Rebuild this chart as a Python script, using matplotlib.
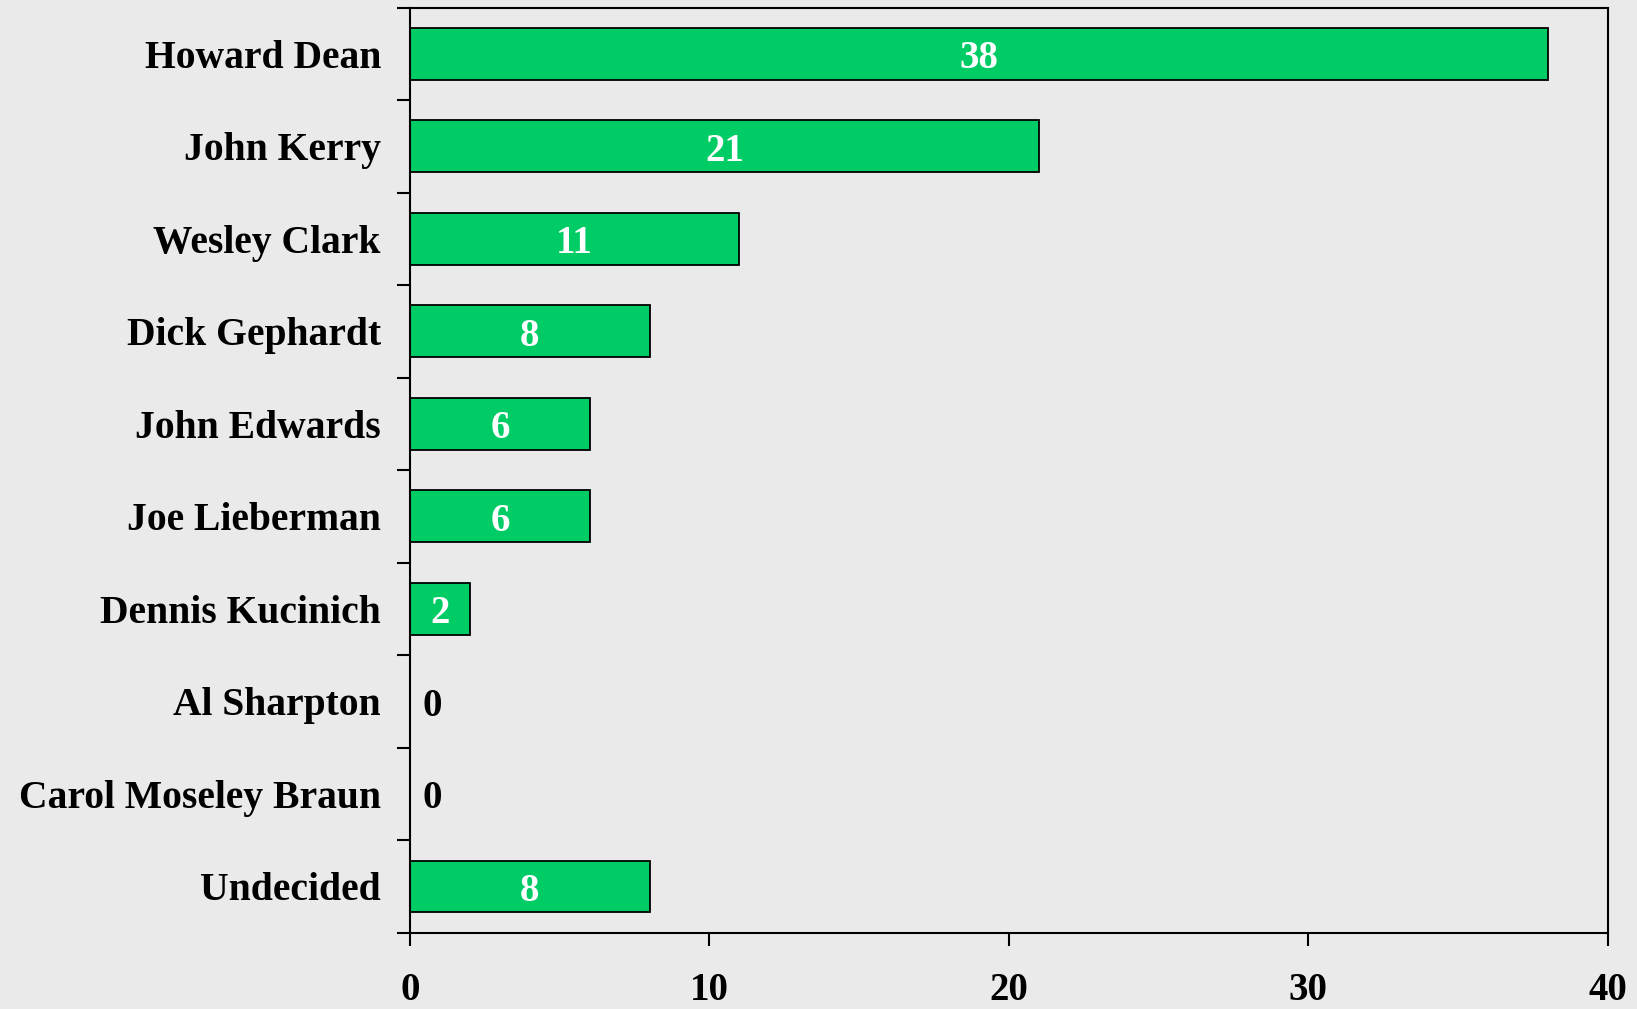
import matplotlib
matplotlib.use("Agg")
import matplotlib.pyplot as plt
import numpy as np

categories = ["Howard Dean", "John Kerry", "Wesley Clark", "Dick Gephardt", "John Edwards",
              "Joe Lieberman", "Dennis Kucinich", "Al Sharpton", "Carol Moseley Braun", "Undecided"]
values = [38, 21, 11, 8, 6, 6, 2, 0, 0, 8]
xticks = [0, 10, 20, 30, 40]

bg = "#EAEAEA"
green = "#00CC66"
plt.rcParams['font.family'] = ['Liberation Serif', 'DejaVu Serif']
plt.rcParams['font.weight'] = 'bold'

fig = plt.figure(figsize=(16.37, 10.09), dpi=100, facecolor=bg)
ax = fig.add_axes([0.2505, 0.0756, 0.9821 - 0.2505, 0.9925 - 0.0756])
ax.set_facecolor(bg)

n = len(categories)
y = np.arange(n)
ax.barh(y, values, height=0.56, color=green, edgecolor="black", linewidth=1.3, zorder=2)
ax.set_ylim(n - 0.5, -0.5)
ax.set_xlim(0, 40)

for yi, v in zip(y, values):
    if v > 0:
        ax.annotate(str(v), (v / 2, yi), xytext=(0, -5), textcoords="offset pixels",
                    ha="center", va="center", color="white", fontsize=28, fontweight="bold")
    else:
        ax.annotate(str(v), (v, yi), xytext=(12, -5), textcoords="offset pixels",
                    ha="left", va="center", color="black", fontsize=28, fontweight="bold")

ax.set_yticks(y)
ax.set_yticklabels(categories, fontsize=28.5, fontweight="bold")
ax.set_yticks(np.arange(n + 1) - 0.5, minor=True)
ax.tick_params(axis="y", which="major", length=0, pad=21)
ax.tick_params(axis="y", which="minor", length=9.5, width=1.5, direction="out")

ax.set_xticks(xticks)
ax.set_xticklabels([str(t) for t in xticks], fontsize=28, fontweight="bold")
ax.tick_params(axis="x", which="major", length=9.5, width=1.5, direction="out", pad=19)

for s in ax.spines.values():
    s.set_linewidth(1.5)
    s.set_color("black")

fig.savefig("out.png", dpi=100, facecolor=bg)
